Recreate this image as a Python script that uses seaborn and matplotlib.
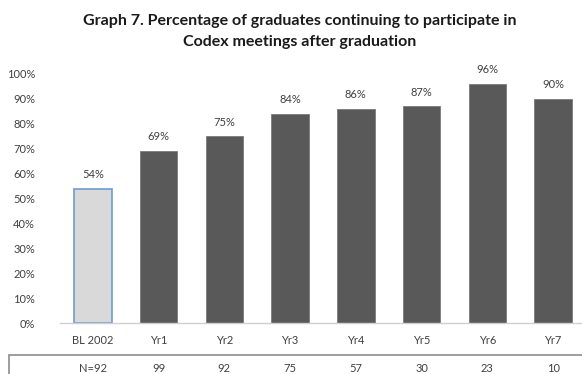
import matplotlib
matplotlib.use("Agg")
import matplotlib.pyplot as plt
import seaborn as sns
from matplotlib.patches import Rectangle
from matplotlib.transforms import blended_transform_factory

sns.set_theme(style="white")
plt.rcParams["font.family"] = ["Lato", "DejaVu Sans"]

categories = ["BL 2002", "Yr1", "Yr2", "Yr3", "Yr4", "Yr5", "Yr6", "Yr7"]
percentages = [54, 69, 75, 84, 86, 87, 96, 90]
n_labels = ["N=92", "99", "92", "75", "57", "30", "23", "10"]
yticks = [0, 10, 20, 30, 40, 50, 60, 70, 80, 90, 100]

W, H = 582, 374
fig = plt.figure(figsize=(W / 100, H / 100), dpi=100)
ax = fig.add_axes([60 / W, 51 / H, (W - 60) / W, 249 / H])

colors = ["#d9d9d9"] + ["#595959"] * (len(categories) - 1)
sns.barplot(x=categories, y=percentages, hue=categories, palette=colors,
            legend=False, width=0.57, ax=ax, saturation=1)

for i, bar in enumerate(ax.patches):
    if i == 0:
        bar.set_edgecolor("#6e9bd6")
        bar.set_linewidth(1.2)
    else:
        bar.set_edgecolor("#7a7a7a")
        bar.set_linewidth(0.6)

for i, v in enumerate(percentages):
    ax.text(i, v + 3.5, f"{v}%", ha="center", va="bottom", fontsize=8,
            color="#404040", clip_on=False)

ax.set_xlim(-0.5, 7.44)
ax.set_ylim(0, 100)
ax.set_yticks(yticks)
ax.set_yticklabels([f"{t}%" for t in yticks], fontsize=8, color="#404040")
ax.tick_params(axis="x", labelsize=8, colors="#404040", length=0, pad=9)
ax.tick_params(axis="y", length=0, pad=18)
ax.set_xlabel("")
ax.set_ylabel("")
for s in ["top", "right", "left"]:
    ax.spines[s].set_visible(False)
ax.spines["bottom"].set_color("#d0d0d0")
ax.spines["bottom"].set_linewidth(1.0)

# sample size table under the axis
fig.add_artist(Rectangle((9 / W, -20 / H), (W + 20) / W, (20 + 19) / H,
                         transform=fig.transFigure, fill=False,
                         edgecolor="#8c8c8c", linewidth=1.2))
trans = blended_transform_factory(ax.transData, fig.transFigure)
for i, n in enumerate(n_labels):
    ax.text(i, 5 / H, n, ha="center", va="center", fontsize=8,
            color="#404040", transform=trans, clip_on=False)

fig.text(300 / W, 1 - 21 / H,
         "Graph 7. Percentage of graduates continuing to participate in",
         ha="center", va="center", fontsize=11.5, fontweight="bold",
         color="#1a1a1a")
fig.text(300 / W, 1 - 42 / H, "Codex meetings after graduation",
         ha="center", va="center", fontsize=11.5, fontweight="bold",
         color="#1a1a1a")

fig.savefig("out.png", dpi=100)
